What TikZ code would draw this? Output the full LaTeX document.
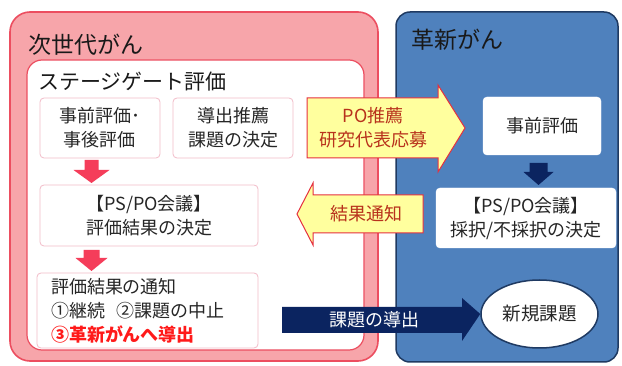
\documentclass[tikz,border=0pt]{standalone}
\usepackage{fontspec}
\setmainfont{Noto Sans CJK JP}
\usetikzlibrary{shapes.geometric}
\definecolor{pinkfill}{HTML}{F7A5AA}
\definecolor{pinkline}{HTML}{EC4E60}
\definecolor{boxline}{HTML}{F2BCC8}
\definecolor{bluefill}{HTML}{4F81BD}
\definecolor{blueline}{HTML}{1F3A62}
\definecolor{navy}{HTML}{0B2460}
\definecolor{redarrow}{HTML}{F53D5A}
\definecolor{yellowfill}{HTML}{FFFF9E}
\definecolor{yellowline}{HTML}{E5303F}
\definecolor{arrowtext}{HTML}{B8321C}
\definecolor{boldred}{HTML}{FF1A1A}
\tikzset{
  titletext/.style={anchor=west, inner sep=0pt, text=black!90, font=\fontsize{23}{27}\selectfont},
  pbox/.style={draw=boxline, line width=0.8pt, fill=white, rounded corners=4pt, align=center, inner sep=0pt, font=\fontsize{18}{24}\selectfont, text=black!85},
  bbox/.style={draw=white, fill=white, rounded corners=4pt, align=center, inner sep=0pt, font=\fontsize{18}{24}\selectfont, text=black!85},
  arrowlabel/.style={align=center, inner sep=0pt, font=\fontsize{18}{24}\selectfont, text=arrowtext},
  yarrow/.style={fill=yellowfill, draw=yellowline, line width=1pt, line join=miter},
}
\newcommand{\blockdown}[6]{% style, x, top, tip, shaft half, head half
  \fill[#1] (#2-#5,#3) -- (#2+#5,#3) -- (#2+#5,#4-13) -- (#2+#6,#4-13) -- (#2,#4) -- (#2-#6,#4-13) -- (#2-#5,#4-13) -- cycle;}
\begin{document}
\begin{tikzpicture}[x=1pt,y=-1pt]
\useasboundingbox (0,0) rectangle (622,366);
\fill[white] (0,0) rectangle (622,366);
% panels
\draw[pinkline, line width=1.6pt, fill=pinkfill, rounded corners=20pt] (10,12) rectangle (378,361);
\draw[pinkline, line width=1.2pt, fill=white, rounded corners=15pt] (27,60) rectangle (364,350);
\draw[blueline, line width=1.5pt, fill=bluefill, rounded corners=14pt] (396,12) rectangle (618,362);
% titles
\node[titletext] (t1) at (28,45) {次世代がん};
\node[titletext, font=\fontsize{21}{25}\selectfont] (t2) at (38,82) {ステージゲート評価};
\node[titletext] (t3) at (411,40) {革新がん};
% left boxes
\node[pbox, minimum width=120pt, minimum height=60pt] (A) at (100,128) {事前評価･\\事後評価};
\node[pbox, minimum width=120pt, minimum height=60pt] (B) at (233,128) {導出推薦\\課題の決定};
\node[pbox, minimum width=218pt, minimum height=61pt] (C) at (149,215.5) {【PS/PO会議】\\評価結果の決定};
\node[pbox, minimum width=221pt, minimum height=75pt, align=left, text width=193pt, inner xsep=14pt] (D) at (147.5,310.5)
  {評価結果の通知\\①継続\hspace{12pt}②課題の中止\\{\bfseries\color{boldred}③革新がんへ導出}};
% right boxes
\node[bbox, minimum width=118pt, minimum height=58pt] (E) at (542,126) {事前評価};
\node[bbox, minimum width=180pt, minimum height=60pt] (F) at (526,218) {【PS/PO会議】\\採択/不採択の決定};
\node[ellipse, draw=blueline, line width=1.5pt, fill=white, minimum width=117pt, minimum height=68pt, inner sep=0pt,
  font=\fontsize{18.5}{24}\selectfont, text=black!85] (G) at (539.5,314) {新規課題};
% down arrows
\blockdown{redarrow}{91.5}{160}{183}{7}{18}
\blockdown{redarrow}{91.5}{250}{271}{8}{16}
\blockdown{navy}{538.5}{163}{185}{9}{15}
% yellow arrows
\coordinate (y1t) at (465,128);
\draw[yarrow] (307,98) -- (438,98) -- (438,85) -- (y1t) -- (438,172) -- (438,158) -- (307,158) -- cycle;
\node[arrowlabel] (L1) at (373,128) {PO推薦\\研究代表応募};
\coordinate (y2t) at (297,214);
\draw[yarrow] (423,195) -- (313,195) -- (313,183) -- (y2t) -- (313,245) -- (313,233) -- (423,233) -- cycle;
\node[arrowlabel] (L2) at (366,214) {結果通知};
% navy arrow to new project
\fill[navy] (282,307) -- (462,307) -- (462,298) -- (G.west) -- (462,341) -- (462,333) -- (282,333) -- cycle;
\node[inner sep=0pt, text=white, font=\fontsize{18}{24}\selectfont] (L3) at (374,320) {課題の導出};
\end{tikzpicture}
\end{document}
